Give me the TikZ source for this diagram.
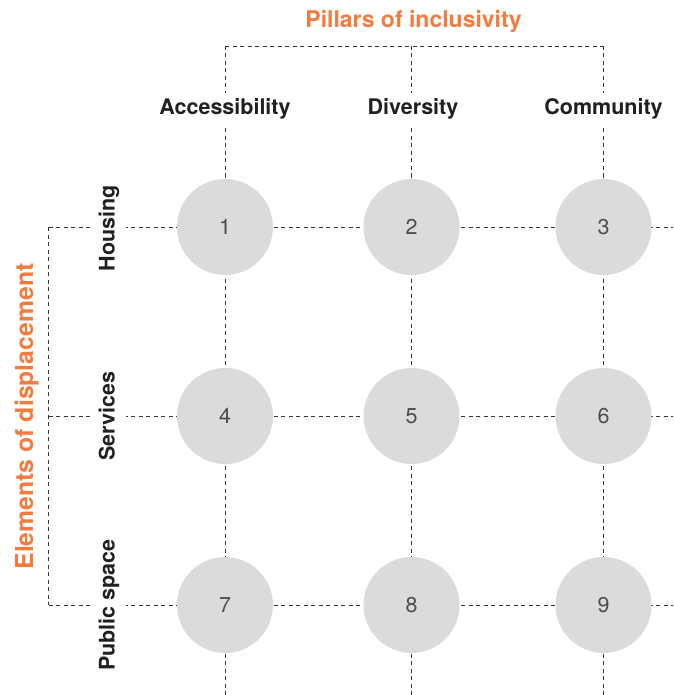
\documentclass[tikz,border=0pt]{standalone}
\usepackage{fontspec}
\setmainfont{TeX Gyre Heros}
\pgfdeclarelayer{background}
\pgfsetlayers{background,main}
\definecolor{accent}{HTML}{F47B3E}
\definecolor{ink}{HTML}{231F20}
\definecolor{discfill}{HTML}{DBDBDB}
\begin{document}
\begin{tikzpicture}[x=1pt,y=-1pt,
  dl/.style={draw=ink!90, line width=0.95pt, dash pattern=on 4pt off 3.5pt},
  pillar/.style={font=\fontsize{21.5}{24}\selectfont\bfseries, text=ink, fill=white,
    text height=15.5pt, text depth=4.5pt, inner xsep=3pt, inner ysep=0pt, minimum height=32pt},
  elem/.style={pillar, rotate=90, minimum height=34pt},
  head/.style={font=\fontsize{23}{26}\selectfont\bfseries, text=accent, inner sep=0pt},
  disc/.style={circle, fill=discfill, minimum size=96pt, inner sep=0pt,
    font=\fontsize{21.5}{24}\selectfont, text=ink!80}]
\useasboundingbox (0,0) rectangle (673,695);

% headings
\node[head, anchor=base] (title) at (413.5,28) {Pillars of inclusivity};
\node[head, anchor=base, rotate=90, font=\fontsize{24.8}{28}\selectfont\bfseries] (side) at (33,416.5) {Elements of displacement};

% column labels
\node[pillar] (p1) at (225,109) {Accessibility};
\node[pillar] (p2) at (413,109) {Diversity};
\node[pillar] (p3) at (603.5,109) {Community};

% row labels
\node[elem] (e1) at (109,228) {Housing};
\node[elem] (e2) at (109,416) {Services};
\node[elem] (e3) at (109,605) {Public space};

% circles
\node[disc] (c1) at (225,227) {1};
\node[disc] (c2) at (411.5,227) {2};
\node[disc] (c3) at (603.5,227) {3};
\node[disc] (c4) at (225,416) {4};
\node[disc] (c5) at (411.5,416) {5};
\node[disc] (c6) at (603.5,416) {6};
\node[disc] (c7) at (225,605) {7};
\node[disc] (c8) at (411.5,605) {8};
\node[disc] (c9) at (603.5,605) {9};

% bracket and line ends
\coordinate (t1) at (225,46);
\coordinate (t2) at (411.5,46);
\coordinate (t3) at (603.5,46);
\coordinate (b1) at (225,695);
\coordinate (b2) at (411.5,695);
\coordinate (b3) at (603.5,695);
\coordinate (l1) at (48.5,227);
\coordinate (l2) at (48.5,416);
\coordinate (l3) at (48.5,605);
\coordinate (r1) at (673,227);
\coordinate (r2) at (673,416);
\coordinate (r3) at (673,605);

\begin{pgfonlayer}{background}
  \draw[dl] (t1) -- (t3);
  \draw[dl] (l1) -- (l3);
  \foreach \i in {1,2,3} {
    \draw[dl] (t\i) -- (b\i);
    \draw[dl] (l\i) -- (r\i);
  }
\end{pgfonlayer}
\end{tikzpicture}
\end{document}
